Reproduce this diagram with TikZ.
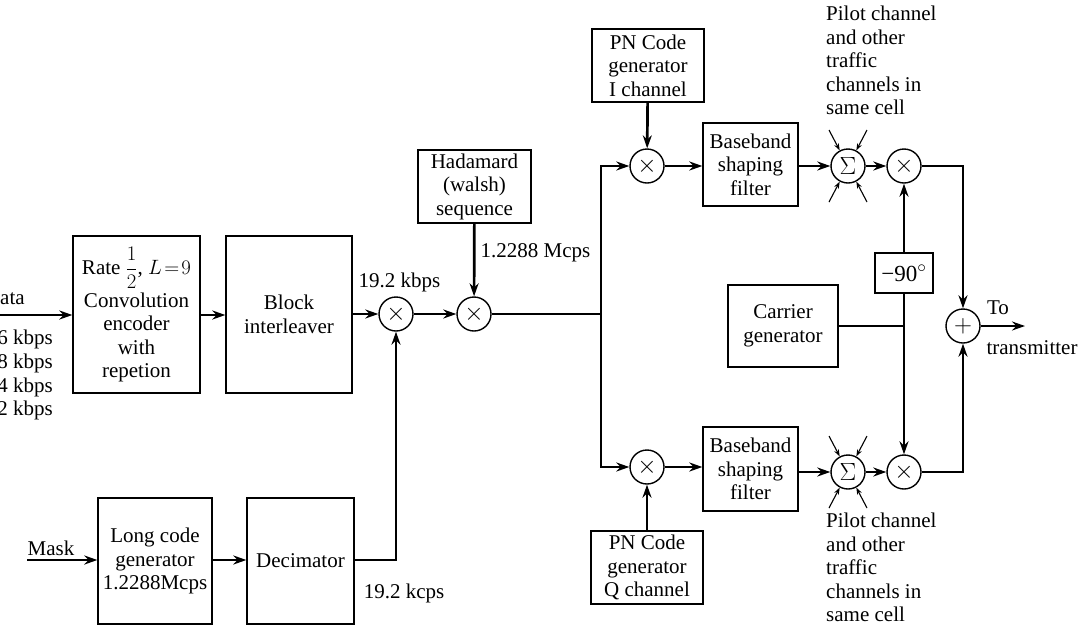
\documentclass[tikz,border=0pt]{standalone}
\usepackage{amsmath}
\usepackage{fontspec}
\setmainfont{Liberation Serif}
\usetikzlibrary{arrows.meta,calc}
\begin{document}
\begin{tikzpicture}[x=1pt,y=-1pt,
  every node/.style={font=\fontsize{21}{23.5}\selectfont},
  box/.style={draw, line width=1.3pt, align=center, inner sep=0pt},
  op/.style={circle, draw, line width=1.4pt, minimum size=34pt, inner sep=0pt, font=\fontsize{25}{25}\selectfont},
  conn/.style={line width=2.7pt},
  arr/.style={conn, -{Stealth[length=13pt,width=9pt]}},
  sarr/.style={line width=1.1pt, -{Stealth[length=7pt,width=5pt]}},
  lbl/.style={inner sep=0pt, align=left}]
\useasboundingbox (0,0) rectangle (1085,630);

% boxes
\node[box, minimum width=127pt, minimum height=157pt] (conv) at (136.5,314.5)
  {Rate $\dfrac{1}{2}$, $L\!=\!9$\\[3pt]Convolution\\encoder\\with\\repetion};
\node[box, minimum width=126pt, minimum height=157pt] (inter) at (289,314.5) {Block\\interleaver};
\node[box, minimum width=113pt, minimum height=73pt] (had) at (474.5,186.5) {Hadamard\\(walsh)\\sequence};
\node[box, minimum width=114pt, minimum height=126pt] (long) at (155,561) {Long code\\generator\\1.2288Mcps};
\node[box, minimum width=107pt, minimum height=126pt] (dec) at (300.5,561) {Decimator};
\node[box, minimum width=112pt, minimum height=73pt] (pni) at (648,65.5) {PN Code\\generator\\I channel};
\node[box, minimum width=95pt, minimum height=83pt] (bbu) at (750.5,164.5) {Baseband\\shaping\\filter};
\node[box, minimum width=95pt, minimum height=84pt] (bbl) at (750.5,469) {Baseband\\shaping\\filter};
\node[box, minimum width=112pt, minimum height=73pt] (pnq) at (647,567.5) {PN Code\\generator\\Q channel};
\node[box, minimum width=110pt, minimum height=82pt] (car) at (783,326) {Carrier\\generator};
\node[box, minimum width=58pt, minimum height=40pt, font=\fontsize{23}{25}\selectfont] (m90) at (904,273) {−90$^{\circ}$};

% operators
\node[op] (x1) at (396,314) {$\times$};
\node[op] (x2) at (474,314) {$\times$};
\node[op] (xu) at (647,166) {$\times$};
\node[op] (xl) at (647,467) {$\times$};
\node[op] (su) at (848,166) {$\Sigma$};
\node[op] (sl) at (848,472) {$\Sigma$};
\node[op] (mu) at (904,166) {$\times$};
\node[op] (ml) at (904,472) {$\times$};
\node[op] (pl) at (963,326) {$+$};

% coordinates
\coordinate (din) at (0,315);
\coordinate (min) at (27,560);
\coordinate (split) at (601,314);
\coordinate (j) at (904,326);
\coordinate (out) at (1025,326);

% labels
\node[lbl, anchor=west] (ldata) at (0,299) {ata};
\node[lbl, anchor=east] (r1) at (53,339) {6 kbps};
\node[lbl, anchor=east] (r2) at (53,363) {8 kbps};
\node[lbl, anchor=east] (r3) at (53,387) {4 kbps};
\node[lbl, anchor=east] (r4) at (53,410) {2 kbps};
\node[lbl] (lmask) at (51,548) {Mask};
\node[lbl] (l192b) at (399.5,282) {19.2 kbps};
\node[lbl] (lmcps) at (535.5,253) {1.2288 Mcps};
\node[lbl] (l192c) at (404,593) {19.2 kcps};
\node[lbl, anchor=north west] (pilu) at (826,6) {Pilot channel\\and other\\traffic\\channels in\\same cell};
\node[lbl, anchor=north west] (pill) at (826,513) {Pilot channel\\and other\\traffic\\channels in\\same cell};
\node[lbl] (lto) at (998,308) {To};
\node[lbl] (ltx) at (1032,348) {transmitter};

% connectors
\draw[arr] (din) -- (conv.west |- din);
\draw[arr] (conv.east |- din) -- (inter.west |- din);
\draw[arr] (inter.east |- x1) -- (x1);
\draw[arr] (x1) -- (x2);
\draw[arr] (had) -- (x2);
\draw[conn] (x2) -- (split);
\draw[arr] (split) |- (xu);
\draw[arr] (split) |- (xl);
\draw[arr] (min) -- (long.west |- min);
\draw[arr] (long.east |- min) -- (dec.west |- min);
\draw[arr] (dec.east |- min) -| (x1);
\draw[arr] (pni) -- (xu);
\draw[arr] (pnq) -- (xl);
\draw[arr] (xu) -- (bbu.west |- xu);
\draw[arr] (xl) -- (bbl.west |- xl);
\draw[arr] (bbu.east |- su) -- (su);
\draw[arr] (bbl.east |- sl) -- (sl);
\draw[arr] (su) -- (mu);
\draw[arr] (sl) -- (ml);
\draw[conn] (car.east |- j) -- (j);
\draw[conn] (j) -- (m90.south);
\draw[arr] (m90.north) -- (mu);
\draw[arr] (j) -- (ml);
\draw[arr] (mu) -| (pl);
\draw[arr] (ml) -| (pl);
\draw[arr] (pl) -- (out);

% small input arrows at summers
\foreach \s in {su,sl}{
  \draw[sarr] ($(\s)+(-19,-36)$) -- (\s.118);
  \draw[sarr] ($(\s)+(19,-36)$) -- (\s.62);
  \draw[sarr] ($(\s)+(-19,36)$) -- (\s.242);
  \draw[sarr] ($(\s)+(19,36)$) -- (\s.298);
}
\end{tikzpicture}
\end{document}
